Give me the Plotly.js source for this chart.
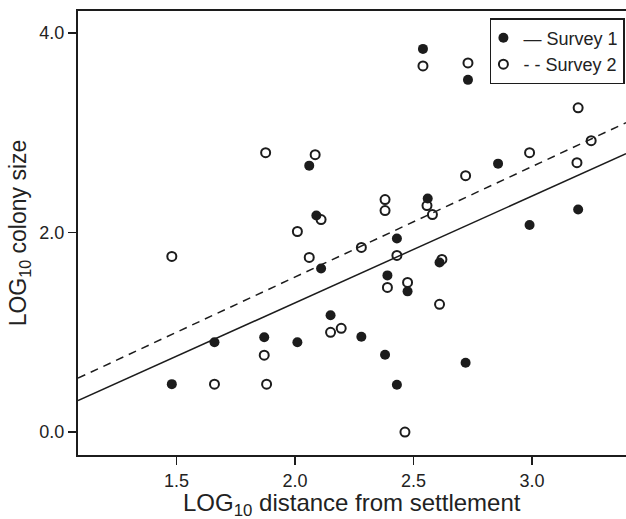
<!DOCTYPE html>
<html>
<head>
<meta charset="utf-8">
<script src="https://cdn.plot.ly/plotly-3.0.1.min.js"></script>
<style>html,body{margin:0;padding:0;background:#fff;}#chart{width:626px;height:519px;}</style>
</head>
<body>
<div id="chart"></div>
<script>
// Survey 1 (filled circles)
const s1X = [1.48, 1.66, 1.87, 2.01, 2.06, 2.09, 2.11, 2.15, 2.28, 2.38, 2.39, 2.43, 2.43, 2.475, 2.54, 2.56, 2.61, 2.72, 2.73, 2.857, 2.99, 3.195];
const s1Y = [0.48, 0.90, 0.95, 0.90, 2.67, 2.17, 1.64, 1.17, 0.955, 0.775, 1.57, 1.94, 0.474, 1.41, 3.84, 2.34, 1.70, 0.695, 3.53, 2.69, 2.075, 2.23];
// Survey 2 (open circles)
const s2X = [1.48, 1.66, 1.87, 1.88, 1.876, 2.01, 2.06, 2.085, 2.11, 2.15, 2.195, 2.28, 2.38, 2.38, 2.39, 2.43, 2.464, 2.475, 2.54, 2.557, 2.58, 2.62, 2.61, 2.72, 2.73, 2.99, 3.19, 3.195, 3.25];
const s2Y = [1.76, 0.48, 0.77, 0.48, 2.80, 2.01, 1.75, 2.78, 2.13, 1.00, 1.04, 1.85, 2.33, 2.22, 1.45, 1.77, 0.0, 1.50, 3.67, 2.27, 2.18, 1.73, 1.28, 2.57, 3.70, 2.80, 2.70, 3.25, 2.92];
// Fitted regression lines (end points across the axis range)
const fitX = [1.084, 3.397];
const fit1Y = [0.315, 2.79];
const fit2Y = [0.54, 3.10];
const xTicks = [1.5, 2.0, 2.5, 3.0];
const xTickText = ['1.5', '2.0', '2.5', '3.0'];
const yTicks = [0, 2, 4];
const yTickText = ['0.0', '2.0', '4.0'];
const xTitle = 'LOG<sub>10</sub> distance from settlement';
const yTitle = 'LOG<sub>10</sub> colony size';

const ink = '#1c1c1c';
const font = 'Liberation Sans, Arial, sans-serif';

const traces = [
  {x: fitX, y: fit1Y, mode: 'lines', line: {color: ink, width: 1.5}, showlegend: false, hoverinfo: 'skip'},
  {x: fitX, y: fit2Y, mode: 'lines', line: {color: ink, width: 1.5, dash: '8px,6px'}, showlegend: false, hoverinfo: 'skip'},
  {x: s1X, y: s1Y, mode: 'markers', name: '— Survey 1',
   marker: {symbol: 'circle', size: 10, color: ink, line: {width: 0}}},
  {x: s2X, y: s2Y, mode: 'markers', name: '- - Survey 2',
   marker: {symbol: 'circle-open', size: 9, color: ink, line: {width: 2, color: ink}}}
];

const layout = {
  width: 626, height: 519,
  margin: {l: 78, r: 0, t: 11, b: 64},
  paper_bgcolor: '#fff', plot_bgcolor: '#fff',
  font: {family: font, color: '#222', size: 18},
  showlegend: true,
  legend: {
    x: 0.998, xanchor: 'right', y: 0.984, yanchor: 'top',
    bgcolor: '#fff', bordercolor: ink, borderwidth: 1.5,
    font: {family: font, size: 18, color: '#222'},
    itemwidth: 30, tracegroupgap: 0, indentation: -8
  },
  xaxis: {
    range: [1.084, 3.397], tickmode: 'array', tickvals: xTicks, ticktext: xTickText,
    showline: true, linecolor: ink, linewidth: 2, mirror: true,
    ticks: 'outside', ticklen: 8, tickwidth: 1.5, tickcolor: ink,
    showgrid: false, zeroline: false, automargin: false,
    tickfont: {family: font, size: 18, color: '#222'}
  },
  yaxis: {
    range: [-0.23, 4.22], tickmode: 'array', tickvals: yTicks, ticktext: yTickText,
    showline: true, linecolor: ink, linewidth: 2, mirror: false,
    ticks: 'outside', ticklen: 8, tickwidth: 1.5, tickcolor: ink,
    showgrid: false, zeroline: false, automargin: false,
    tickfont: {family: font, size: 18, color: '#222'},
    title: {text: yTitle, font: {family: font, size: 23, color: '#222'}, standoff: 6}
  },
  annotations: [
    {text: xTitle, xref: 'paper', yref: 'paper', x: 0.5, y: 0, xanchor: 'center', yanchor: 'middle',
     yshift: -49, showarrow: false, font: {family: font, size: 24, color: '#222'}}
  ]
};

Plotly.newPlot('chart', traces, layout, {displayModeBar: false, staticPlot: true});
</script>
</body>
</html>
